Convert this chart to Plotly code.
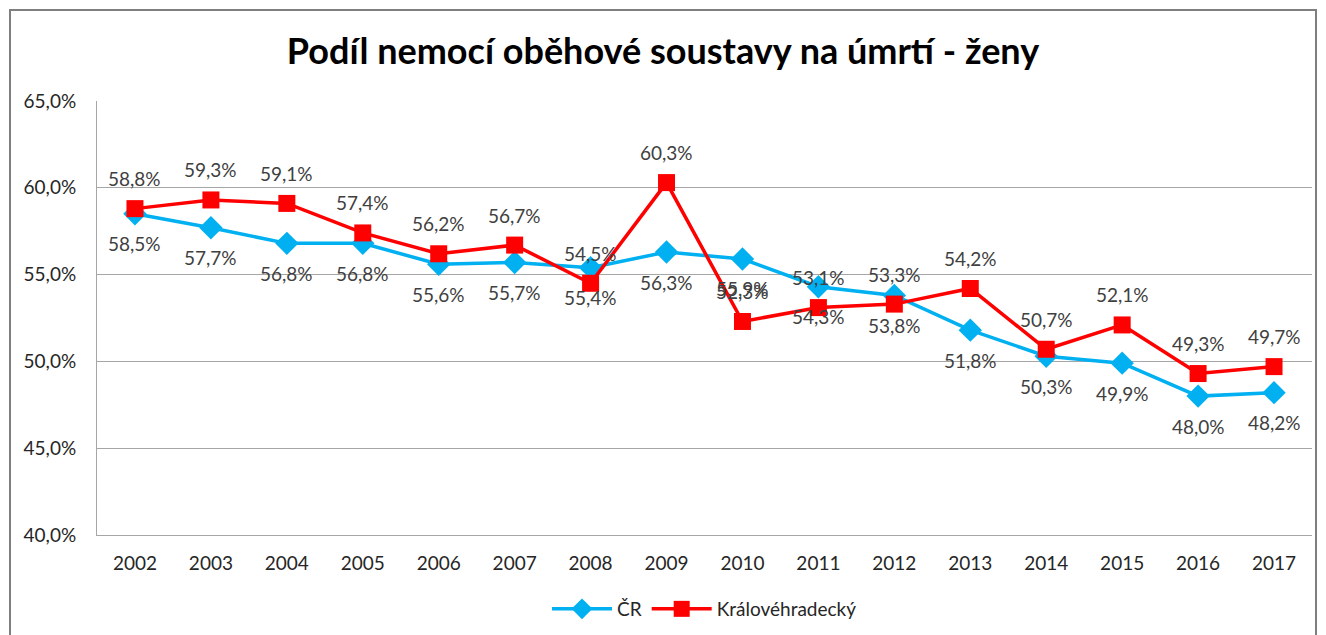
import plotly.graph_objects as go

years = ["2002", "2003", "2004", "2005", "2006", "2007", "2008", "2009",
         "2010", "2011", "2012", "2013", "2014", "2015", "2016", "2017"]
cr = [58.5, 57.7, 56.8, 56.8, 55.6, 55.7, 55.4, 56.3, 55.9, 54.3, 53.8, 51.8, 50.3, 49.9, 48.0, 48.2]
khk = [58.8, 59.3, 59.1, 57.4, 56.2, 56.7, 54.5, 60.3, 52.3, 53.1, 53.3, 54.2, 50.7, 52.1, 49.3, 49.7]
title = "Podíl nemocí oběhové soustavy na úmrtí - ženy"

FONT = "Lato"
TXT = "#404040"


def fmt(v):
    return f"{v:.1f}%".replace(".", ",")


fig = go.Figure()
fig.add_trace(go.Scatter(
    x=years, y=cr, name="ČR", mode="lines+markers",
    line=dict(color="#00B0F0", width=3.5),
    marker=dict(symbol="diamond", size=18, color="#00B0F0"),
))
fig.add_trace(go.Scatter(
    x=years, y=khk, name="Královéhradecký", mode="lines+markers",
    line=dict(color="#FF0000", width=3.5),
    marker=dict(symbol="square", size=17, color="#FF0000"),
))

annotations = []
for i, v in enumerate(cr):
    annotations.append(dict(x=i, y=v, xref="x", yref="y", text=fmt(v),
                            showarrow=False, yshift=-30,
                            font=dict(family=FONT, size=19, color=TXT)))
for i, v in enumerate(khk):
    annotations.append(dict(x=i, y=v, xref="x", yref="y", text=fmt(v),
                            showarrow=False, yshift=30,
                            font=dict(family=FONT, size=19, color=TXT)))

fig.update_layout(
    width=1326, height=635,
    margin=dict(l=97, r=14, t=101, b=100),
    paper_bgcolor="white", plot_bgcolor="white",
    separators=",.",
    font=dict(family=FONT, color="#262626"),
    title=dict(text="<b>" + title + "</b>", x=0.5, xanchor="center",
               y=1 - 51 / 635, yref="container", yanchor="middle",
               font=dict(family=FONT, size=36, color="#000000")),
    xaxis=dict(type="category", range=[-0.5, 15.5], showgrid=False,
               showline=True, linecolor="#A6A6A6", linewidth=1,
               ticks="", ticklabelstandoff=11, automargin=False,
               tickfont=dict(family=FONT, size=19, color="#262626")),
    yaxis=dict(range=[40, 65], dtick=5, tickformat=".1f", ticksuffix="%",
               showgrid=True, gridcolor="#A6A6A6", gridwidth=1,
               showline=True, linecolor="#A6A6A6", linewidth=1,
               zeroline=False, ticks="", ticklabelstandoff=16, automargin=False,
               tickfont=dict(family=FONT, size=19, color="#262626")),
    legend=dict(orientation="h", x=0.5, xanchor="center",
                y=1 - 590 / 635, yanchor="top", yref="container",
                itemwidth=60,
                font=dict(family=FONT, size=19, color="#262626")),
    showlegend=True,
    annotations=annotations,
    shapes=[dict(type="rect", xref="paper", yref="paper",
                 x0=-0.0716, x1=1.0033, y0=-0.3, y1=1.2097,
                 line=dict(color="#7F7F7F", width=2), layer="below")],
)

fig.write_html("out.html", config={"displayModeBar": False},
               post_script="document.body.style.margin='0';")
